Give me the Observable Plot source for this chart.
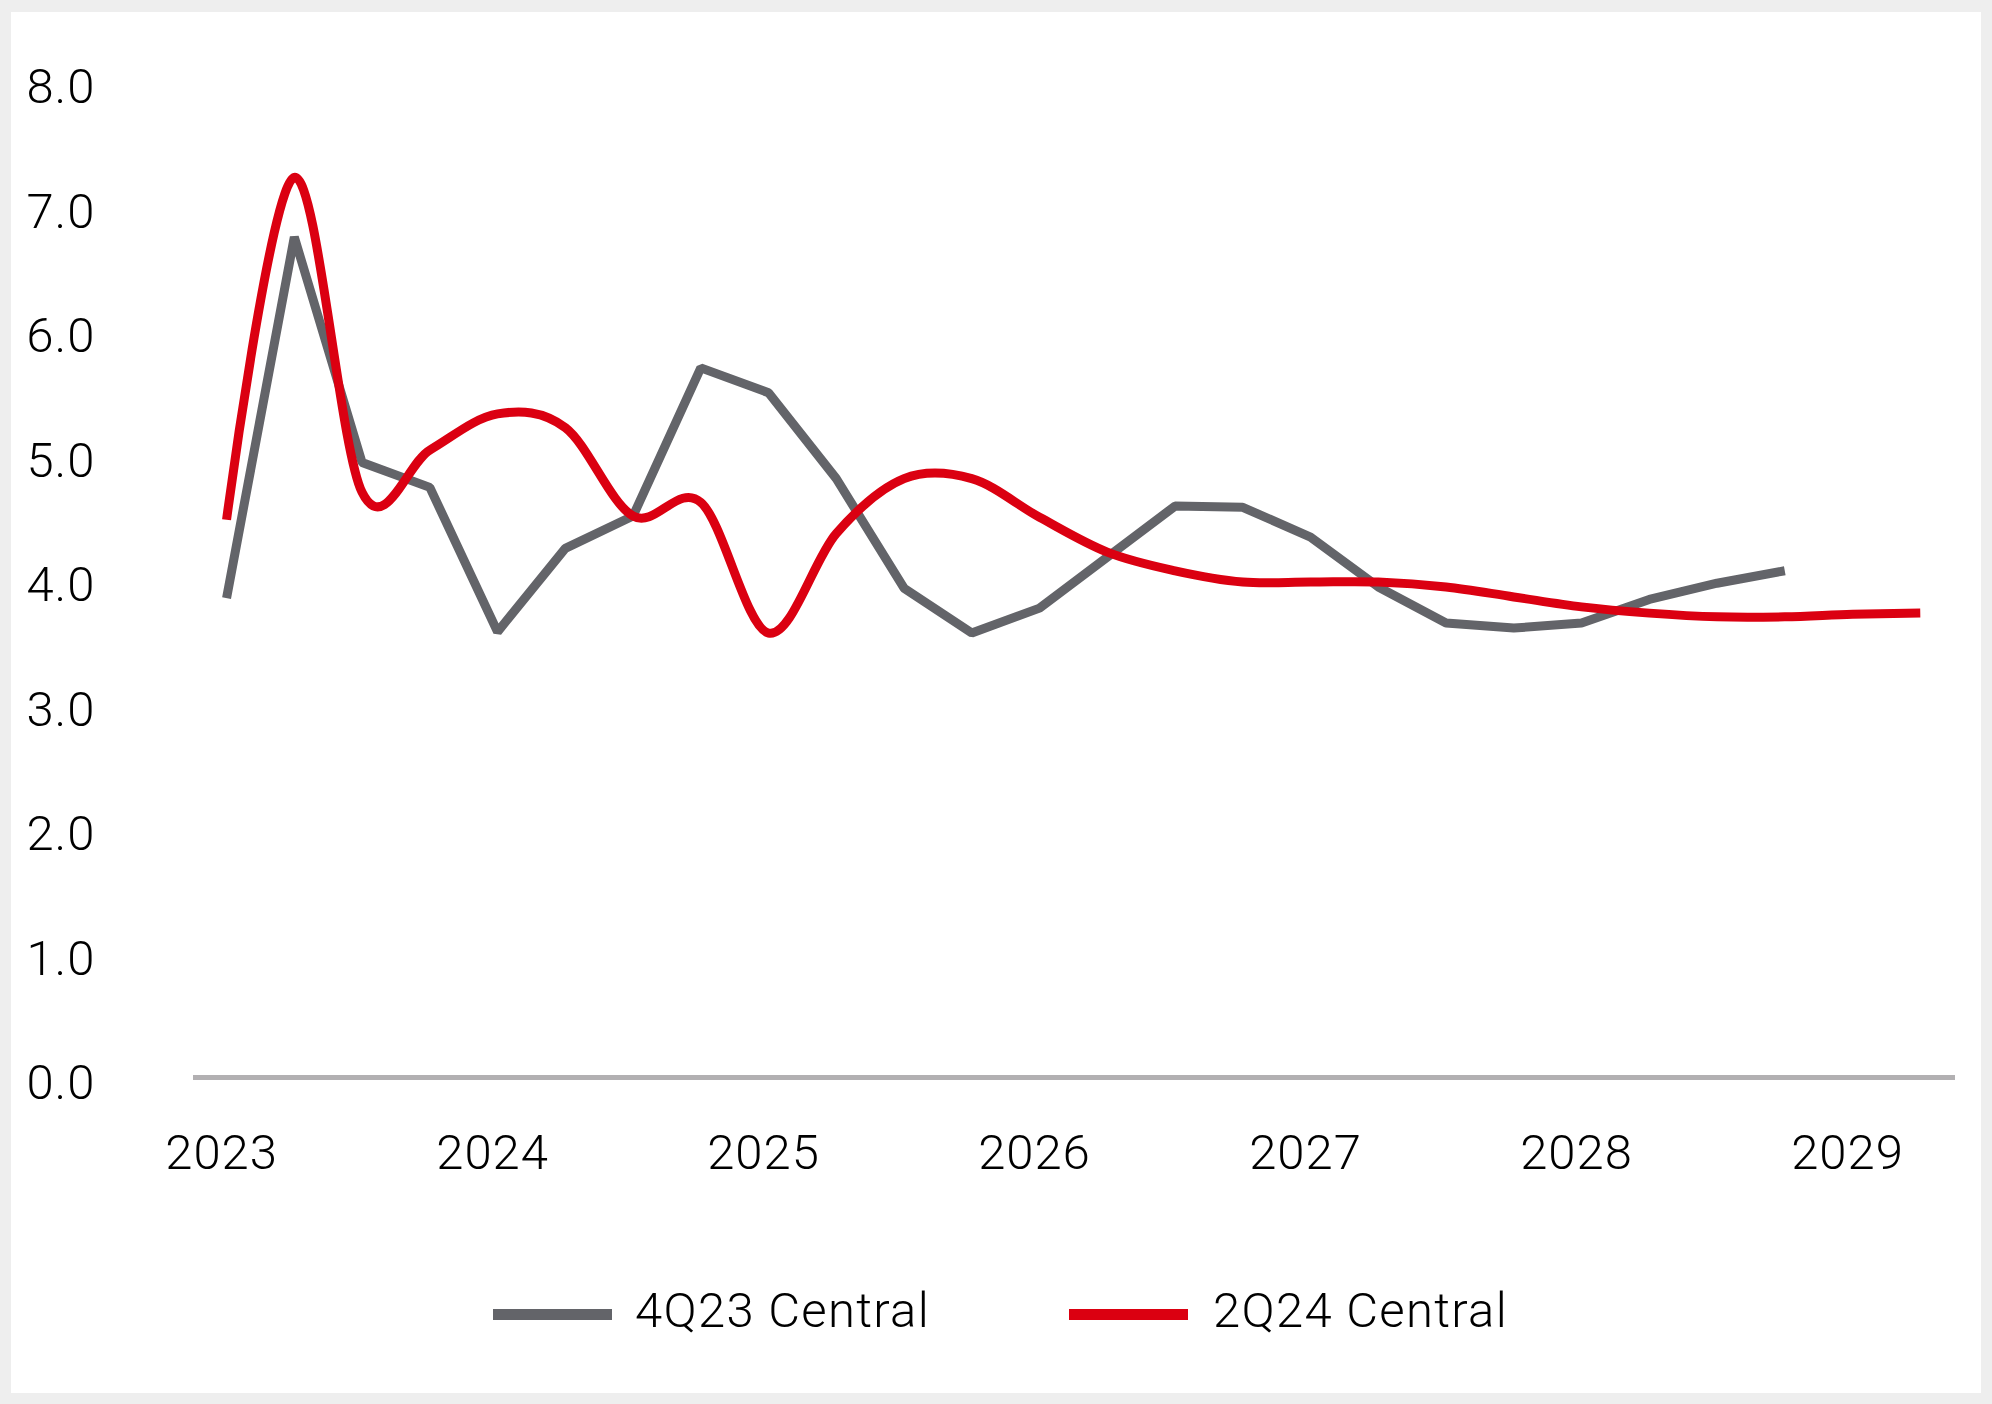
<!DOCTYPE html>
<html>
<head>
<meta charset="utf-8">
<script src="https://cdn.jsdelivr.net/npm/d3@7"></script>
<script src="https://cdn.jsdelivr.net/npm/@observablehq/plot@0.6"></script>
<style>
  html, body { margin: 0; padding: 0; background: #eeeeee; }
  #page { position: relative; width: 1992px; height: 1404px; background: #eeeeee; overflow: hidden; font-family: Roboto, "Noto Sans", sans-serif; }
  #panel { position: absolute; left: 11px; top: 12px; width: 1970px; height: 1381px; background: #ffffff; }
  #chart { position: absolute; left: 0; top: 0; }
  .sw { position: absolute; height: 11px; width: 119px; }
  .lt { position: absolute; font-size: 49px; font-weight: 300; line-height: 49px; letter-spacing: 1.3px; color: #000; white-space: nowrap; }
</style>
</head>
<body>
<div id="page">
  <div id="panel"></div>
  <div id="chart"></div>
  <div id="legend"></div>
</div>
<script>
// ---- data ----
const quarters = [
  "2023Q1","2023Q2","2023Q3","2023Q4",
  "2024Q1","2024Q2","2024Q3","2024Q4",
  "2025Q1","2025Q2","2025Q3","2025Q4",
  "2026Q1","2026Q2","2026Q3","2026Q4",
  "2027Q1","2027Q2","2027Q3","2027Q4",
  "2028Q1","2028Q2","2028Q3","2028Q4",
  "2029Q1","2029Q2"
];
const seriesNames = ["4Q23 Central", "2Q24 Central"];
const values4Q23 = [3.85, 6.75, 4.94, 4.74, 3.58, 4.25, 4.51, 5.70, 5.50, 4.81, 3.93, 3.57,
                    3.77, 4.18, 4.59, 4.58, 4.34, 3.94, 3.65, 3.61, 3.65, 3.84, 3.97, 4.07];
const values2Q24 = [4.48, 7.23, 4.70, 5.04, 5.33, 5.22, 4.51, 4.62, 3.57, 4.37, 4.81, 4.81,
                    4.50, 4.22, 4.07, 3.98, 3.98, 3.98, 3.94, 3.86, 3.78, 3.73, 3.70, 3.70, 3.72, 3.73];
const yearTicks = [2023, 2024, 2025, 2026, 2027, 2028, 2029];
const yTicks = [0, 1, 2, 3, 4, 5, 6, 7, 8];
const colors = ["#636469", "#db0011"];

// ---- build ----
const qToX = q => { const [yr, n] = q.split("Q"); return +yr + (+n - 1) / 4; };
const grayData = values4Q23.map((v, i) => ({ x: qToX(quarters[i]), v, s: seriesNames[0] }));
const redData = values2Q24.map((v, i) => ({ x: qToX(quarters[i]), v, s: seriesNames[1] }));

const chart = Plot.plot({
  width: 1992,
  height: 1200,
  marginLeft: 193,
  marginRight: 37,
  marginTop: 81,
  marginBottom: 123,
  style: { fontFamily: "Roboto, 'Noto Sans', sans-serif", fontSize: "49px", fontWeight: 300, letterSpacing: "1px", color: "#000", background: "transparent", overflow: "visible" },
  x: { domain: [2022.878, 2029.38], label: null },
  y: { domain: [0, 8], label: null },
  marks: [
    Plot.axisX({ ticks: yearTicks, tickFormat: d => String(d), tickSize: 0, tickPadding: 57, dx: -5, label: null, fontSize: 49 }),
    Plot.axisY({ ticks: yTicks, tickFormat: d => d.toFixed(1), tickSize: 0, tickPadding: 98, dy: 6, label: null, fontSize: 49 }),
    Plot.ruleY([0], { stroke: "#b2b0b2", strokeWidth: 5 }),
    Plot.line(grayData, { x: "x", y: "v", stroke: colors[0], strokeWidth: 9, strokeLinecap: "butt", strokeLinejoin: "miter" }),
    Plot.line(redData, { x: "x", y: "v", stroke: colors[1], strokeWidth: 9, strokeLinecap: "butt", curve: "cardinal" })
  ]
});
document.getElementById("chart").appendChild(chart);

// ---- legend ----
const legend = document.getElementById("legend");
const legendPos = [{ sw: 493, tx: 635 }, { sw: 1069, tx: 1213 }];
seriesNames.forEach((name, i) => {
  const sw = document.createElement("div");
  sw.className = "sw";
  sw.style.left = legendPos[i].sw + "px";
  sw.style.top = "1309px";
  sw.style.background = colors[i];
  legend.appendChild(sw);
  const t = document.createElement("div");
  t.className = "lt";
  t.style.left = legendPos[i].tx + "px";
  t.style.top = "1286px";
  t.textContent = name;
  legend.appendChild(t);
});
</script>
</body>
</html>
